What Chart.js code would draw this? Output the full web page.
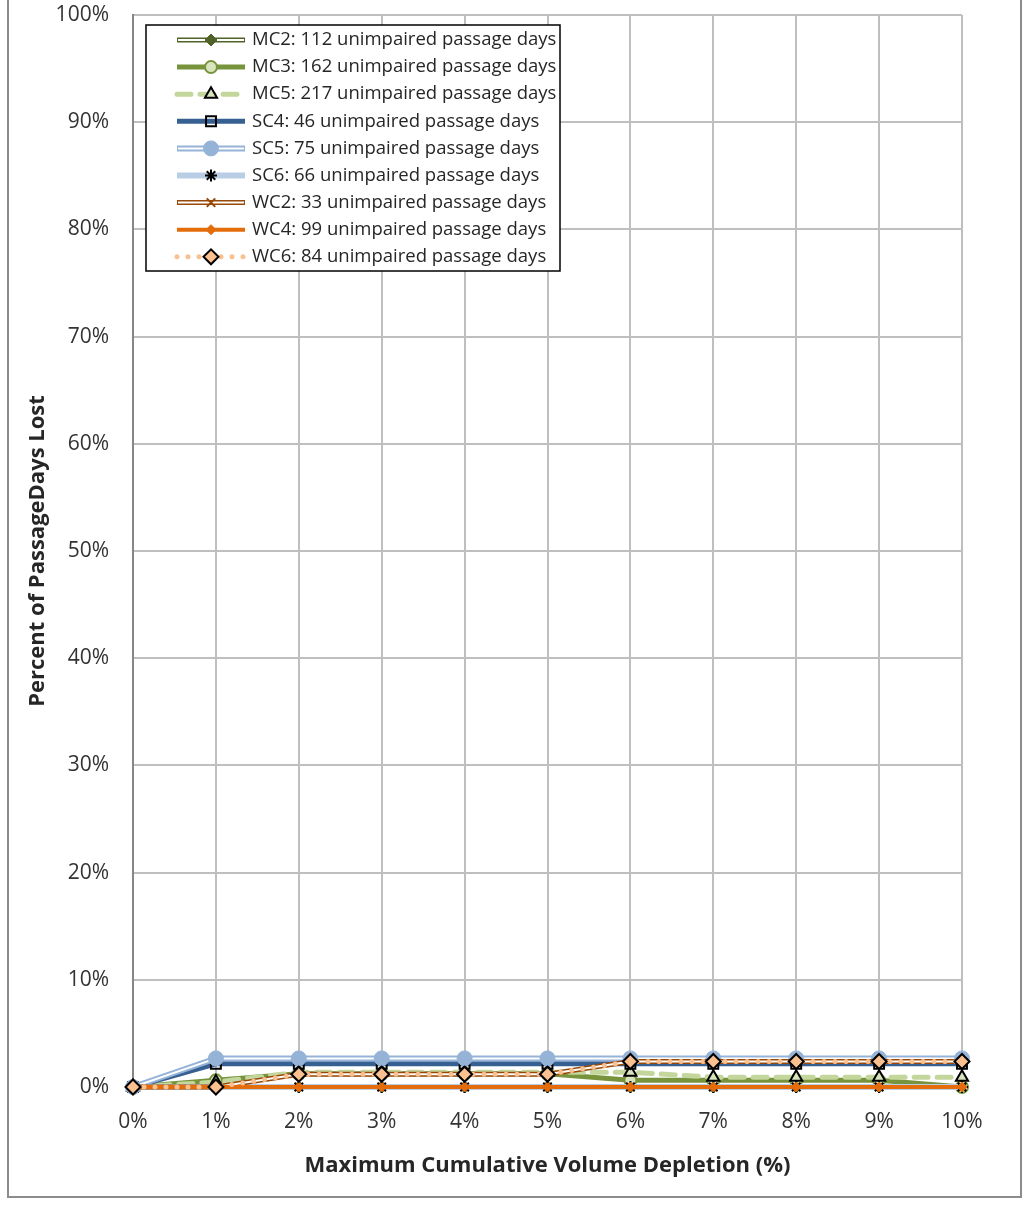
<!DOCTYPE html>
<html lang="en">
<head>
<meta charset="UTF-8">
<title>Percent of PassageDays Lost</title>
<script src="https://cdn.jsdelivr.net/npm/chart.js@4.4.1/dist/chart.umd.min.js"></script>
<style>
  html, body { margin: 0; padding: 0; background: #fff; }
  #wrap { width: 1029px; height: 1205px; }
</style>
</head>
<body>
<div id="wrap"><canvas id="myChart" width="1029" height="1205"></canvas></div>
<script>
  // x categories (max cumulative volume depletion) and y ticks
  const xLabels = ['0%', '1%', '2%', '3%', '4%', '5%', '6%', '7%', '8%', '9%', '10%'];
  const yTicks = [0, 10, 20, 30, 40, 50, 60, 70, 80, 90, 100];

  // percent of passage days lost
  const mc2 = [0, 0, 0, 0, 0, 0, 0, 0, 0, 0, 0];
  const mc3 = [0, 0.62, 1.23, 1.23, 1.23, 1.23, 0.62, 0.62, 0.62, 0.62, 0];
  const mc5 = [0, 0.46, 1.38, 1.38, 1.38, 1.38, 1.38, 0.92, 0.92, 0.92, 0.92];
  const sc4 = [0, 2.17, 2.17, 2.17, 2.17, 2.17, 2.17, 2.17, 2.17, 2.17, 2.17];
  const sc5 = [0, 2.67, 2.67, 2.67, 2.67, 2.67, 2.67, 2.67, 2.67, 2.67, 2.67];
  const sc6 = [0, 0, 0, 0, 0, 0, 0, 0, 0, 0, 0];
  const wc2 = [0, 0, 1.19, 1.19, 1.19, 1.19, 2.38, 2.38, 2.38, 2.38, 2.38];
  const wc4 = [0, 0, 0, 0, 0, 0, 0, 0, 0, 0, 0];
  const wc6 = [0, 0, 1.19, 1.19, 1.19, 1.19, 2.38, 2.38, 2.38, 2.38, 2.38];

  const seriesNames = [
    'MC2: 112 unimpaired passage days',
    'MC3: 162 unimpaired passage days',
    'MC5: 217 unimpaired passage days',
    'SC4: 46 unimpaired passage days',
    'SC5: 75 unimpaired passage days',
    'SC6: 66 unimpaired passage days',
    'WC2: 33 unimpaired passage days',
    'WC4: 99 unimpaired passage days',
    'WC6: 84 unimpaired passage days'
  ];
  const seriesData = [mc2, mc3, mc5, sc4, sc5, sc6, wc2, wc4, wc6];

  // line + marker look of each series (same order as above)
  const styles = [
    { color: '#4f6228', width: 5, inner: 2, dash: [], cap: 'butt', point: 'rectRot', r: 6, fill: '#4f6228', stroke: '#4f6228', pw: 1 },
    { color: '#77933c', width: 5, inner: 0, dash: [], cap: 'butt', point: 'circle', r: 6, fill: '#d7e4bd', stroke: '#77933c', pw: 2 },
    { color: '#c3d69b', width: 5, inner: 0, dash: [14, 9], cap: 'round', point: 'triangle', r: 7, fill: '#d7e4bd', stroke: '#000000', pw: 2 },
    { color: '#376092', width: 5, inner: 0, dash: [], cap: 'butt', point: 'rect', r: 7, fill: 'rgba(255,255,255,0)', stroke: '#000000', pw: 2 },
    { color: '#95b3d7', width: 6, inner: 2, dash: [], cap: 'butt', point: 'circle', r: 7.5, fill: '#95b3d7', stroke: '#95b3d7', pw: 1 },
    { color: '#b9cde5', width: 6, inner: 0, dash: [], cap: 'butt', point: 'star', r: 6, fill: '#000000', stroke: '#000000', pw: 2 },
    { color: '#984807', width: 5, inner: 2, dash: [], cap: 'butt', point: 'crossRot', r: 6, fill: '#984807', stroke: '#984807', pw: 2 },
    { color: '#e46c0a', width: 4, inner: 0, dash: [], cap: 'butt', point: 'rectRot', r: 5, fill: '#e46c0a', stroke: '#e46c0a', pw: 1 },
    { color: '#fac090', width: 5, inner: 0, dash: [0, 11], cap: 'round', point: 'rectRot', r: 7.5, fill: '#fac090', stroke: '#000000', pw: 2 }
  ];

  const datasets = [];
  seriesData.forEach((data, i) => {
    const s = styles[i];
    const base = 100 - i * 3; // later series on top, like Excel
    datasets.push({
      label: seriesNames[i], data: data, borderColor: s.color, borderWidth: s.width,
      borderDash: s.dash, borderCapStyle: s.cap, pointRadius: 0, tension: 0,
      fill: false, clip: false, order: base
    });
    if (s.inner) {
      datasets.push({
        label: '', data: data, borderColor: '#ffffff', borderWidth: s.inner,
        pointRadius: 0, tension: 0, fill: false, clip: false, order: base - 1
      });
    }
    datasets.push({
      label: '', data: data, showLine: false, pointStyle: s.point, pointRadius: s.r,
      pointBackgroundColor: s.fill, pointBorderColor: s.stroke, pointBorderWidth: s.pw,
      clip: false, order: base - 2
    });
  });

  const FONT = "'Open Sans', 'Liberation Sans', sans-serif";

  // white page + grey outer frame
  const framePlugin = {
    id: 'frame',
    beforeDraw(chart) {
      const ctx = chart.ctx;
      ctx.save();
      ctx.fillStyle = '#ffffff';
      ctx.fillRect(0, 0, chart.width, chart.height);
      ctx.strokeStyle = '#8c8c8c';
      ctx.lineWidth = 2;
      ctx.strokeRect(8, -5, 1013, 1202);
      ctx.restore();
    }
  };

  // boxed legend inside the plot, top left
  const legendPlugin = {
    id: 'boxLegend',
    afterDraw(chart) {
      const ctx = chart.ctx;
      const bx = 146, by = 25, bw = 414, bh = 246;
      ctx.save();
      ctx.fillStyle = '#ffffff';
      ctx.fillRect(bx, by, bw, bh);
      ctx.strokeStyle = '#000000';
      ctx.lineWidth = 1.5;
      ctx.strokeRect(bx, by, bw, bh);
      seriesNames.forEach((name, i) => {
        const s = styles[i];
        const y = 40 + i * 27.1;
        ctx.save();
        ctx.strokeStyle = s.color;
        ctx.lineWidth = s.width;
        ctx.lineCap = s.cap;
        ctx.setLineDash(s.dash);
        ctx.beginPath();
        ctx.moveTo(177, y);
        ctx.lineTo(245, y);
        ctx.stroke();
        if (s.inner) {
          ctx.setLineDash([]);
          ctx.strokeStyle = '#ffffff';
          ctx.lineWidth = s.inner;
          ctx.beginPath();
          ctx.moveTo(178, y);
          ctx.lineTo(244, y);
          ctx.stroke();
        }
        ctx.restore();
        ctx.save();
        ctx.fillStyle = s.fill;
        ctx.strokeStyle = s.stroke;
        ctx.lineWidth = s.pw;
        Chart.helpers.drawPoint(ctx, { pointStyle: s.point, radius: s.r, borderWidth: s.pw, rotation: 0 }, 211, y);
        ctx.restore();
        ctx.fillStyle = '#262626';
        ctx.font = '18.5px ' + FONT;
        ctx.textBaseline = 'middle';
        ctx.fillText(name, 252, y);
      });
      ctx.restore();
    }
  };

  const config = {
    type: 'line',
    data: { labels: xLabels, datasets: datasets },
    options: {
      responsive: false,
      animation: false,
      layout: { padding: { left: 10, top: 15, right: 67, bottom: 10 } },
      plugins: { legend: { display: false }, tooltip: { enabled: false } },
      scales: {
        x: {
          offset: false,
          grid: { color: '#bfbfbf', lineWidth: 2, drawTicks: false },
          border: { color: '#868686', width: 2 },
          ticks: { color: '#333333', font: { family: FONT, size: 21 }, padding: 22, maxRotation: 0 },
          title: {
            display: true, text: 'Maximum Cumulative Volume Depletion (%)', color: '#262626',
            font: { family: FONT, size: 22, weight: 'bold' }, padding: { top: 0, bottom: 16 }
          },
          afterFit(scale) { scale.height = 108; }
        },
        y: {
          min: 0, max: 100,
          afterBuildTicks(scale) { scale.ticks = yTicks.map(v => ({ value: v })); },
          grid: { color: '#bfbfbf', lineWidth: 2, drawTicks: false },
          border: { color: '#868686', width: 2 },
          ticks: { color: '#333333', font: { family: FONT, size: 21 }, padding: 24, callback: v => v + '%' },
          title: {
            display: true, text: 'Percent of PassageDays Lost', color: '#262626',
            font: { family: FONT, size: 22, weight: 'bold' }, padding: { top: 15, bottom: 0 }
          },
          afterFit(scale) {
            scale.width = 123;
            scale.paddingTop = 0;
            scale.paddingBottom = 0;
          }
        }
      }
    },
    plugins: [framePlugin, legendPlugin]
  };

  new Chart(document.getElementById('myChart').getContext('2d'), config);
</script>
</body>
</html>
